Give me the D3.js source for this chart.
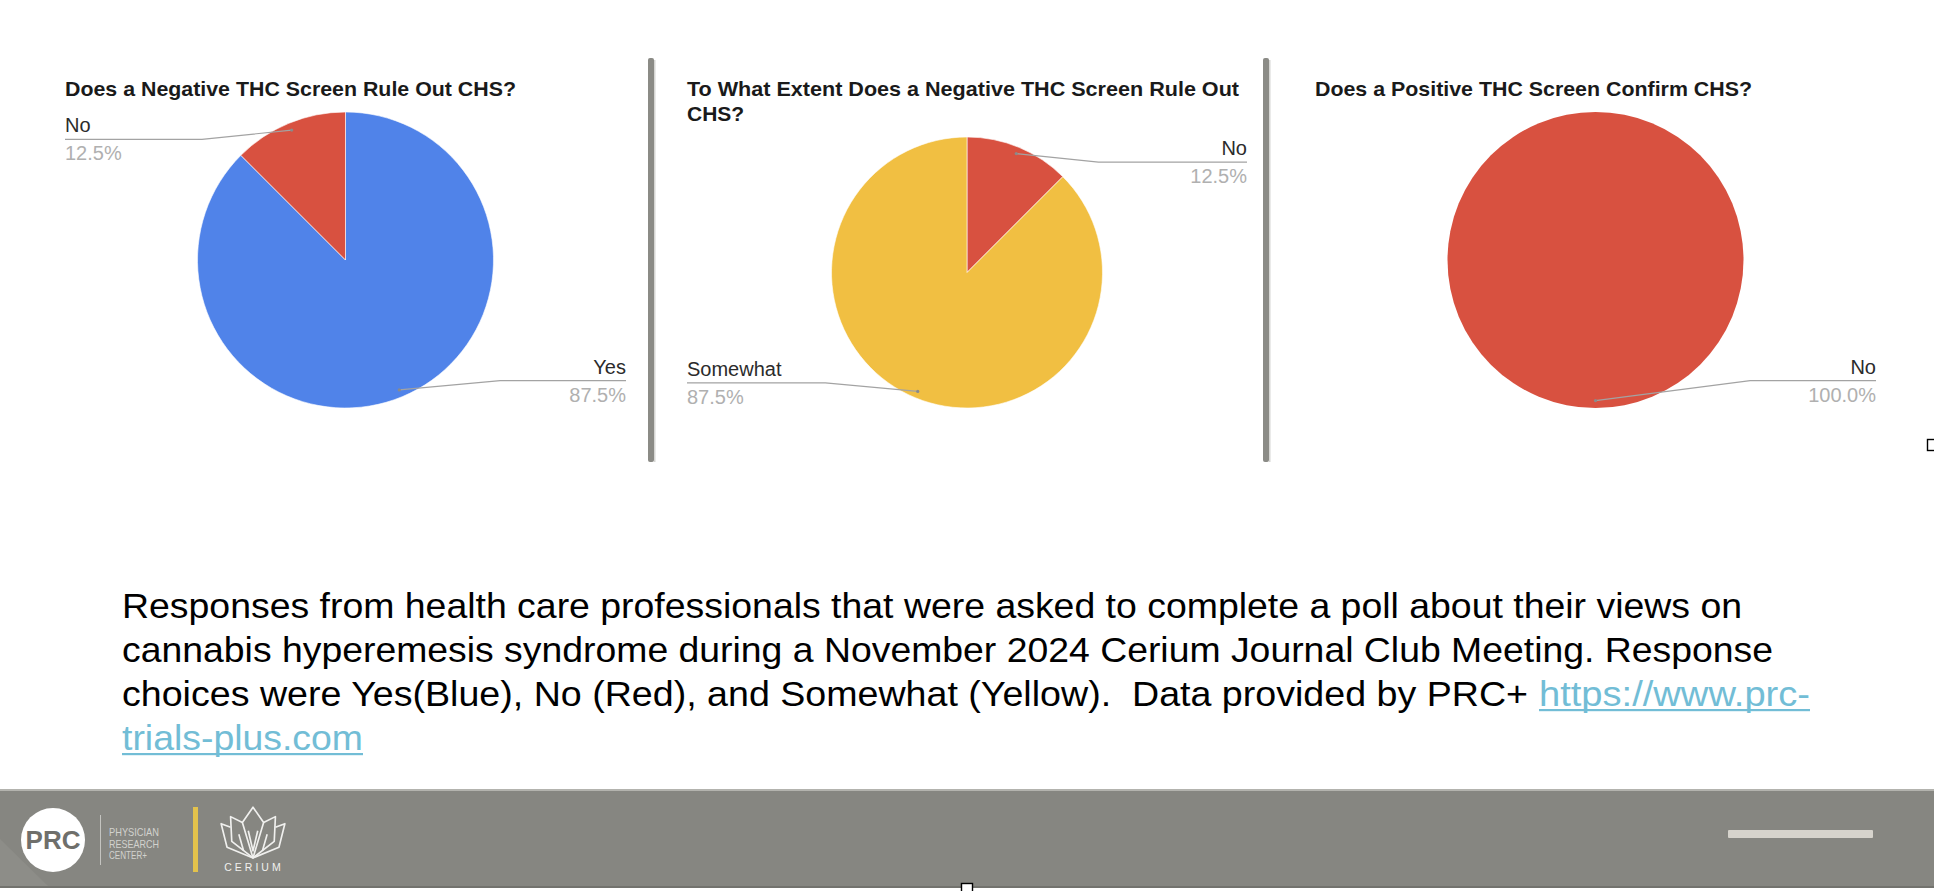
<!DOCTYPE html>
<html>
<head>
<meta charset="utf-8">
<script src="https://cdn.jsdelivr.net/npm/d3@7"></script>
<style>
  html, body { margin: 0; padding: 0; background: #ffffff; }
  svg { display: block; }
  text { font-family: "Liberation Sans", Arial, "Helvetica", sans-serif; white-space: pre; }
</style>
</head>
<body>
<svg id="chart" width="1934" height="891"></svg>
<script>
// ---------------- DATA ----------------
const chartTitles = [
  ["Does a Negative THC Screen Rule Out CHS?"],
  ["To What Extent Does a Negative THC Screen Rule Out", "CHS?"],
  ["Does a Positive THC Screen Confirm CHS?"]
];
const pie1Categories = ["Yes", "No"];
const pie1Values = [87.5, 12.5];
const pie2Categories = ["No", "Somewhat"];
const pie2Values = [12.5, 87.5];
const pie3Categories = ["No"];
const pie3Values = [100];

const categoryColors = { "Yes": "#5083e9", "No": "#d85140", "Somewhat": "#f1bf42" };

const captionLines = [
  "Responses from health care professionals that were asked to complete a poll about their views on",
  "cannabis hyperemesis syndrome during a November 2024 Cerium Journal Club Meeting. Response",
  "choices were Yes(Blue), No (Red), and Somewhat (Yellow).  Data provided by PRC+"
];
const linkParts = ["https://www.prc-", "trials-plus.com"];
const footerBrandLines = ["PHYSICIAN", "RESEARCH", "CENTER+"];

// ---------------- LAYOUT ----------------
const svg = d3.select("#chart");
const W = 1934, H = 891;

const panels = [
  { left: 65, right: 626, cats: pie1Categories, vals: pie1Values, title: chartTitles[0] },
  { left: 687, right: 1247, cats: pie2Categories, vals: pie2Values, title: chartTitles[1] },
  { left: 1315, right: 1876, cats: pie3Categories, vals: pie3Values, title: chartTitles[2] }
];
const titleLengths = [[451], [552, null], [437]];

const titleBaseline = 96, titleLineH = 25, pieBottom = 408;
const pct = d3.format(".1%");

const pieGen = d3.pie().sort(null).value(d => d.value);

panels.forEach((p, pi) => {
  const g = svg.append("g");
  p.title.forEach((line, li) => {
    const t = g.append("text")
      .attr("x", p.left)
      .attr("y", titleBaseline + li * titleLineH)
      .attr("font-size", 21)
      .attr("font-weight", "bold")
      .attr("fill", "#1a1a1a")
      .text(line);
    if (titleLengths[pi][li]) t.attr("textLength", titleLengths[pi][li]).attr("lengthAdjust", "spacingAndGlyphs");
  });
  const lastBase = titleBaseline + (p.title.length - 1) * titleLineH;
  const pieTop = lastBase + 16;
  const r = (pieBottom - pieTop) / 2;
  const cx = (p.left + p.right) / 2;
  const cy = pieTop + r;

  const data = p.cats.map((c, i) => ({ cat: c, value: p.vals[i] }));
  const total = d3.sum(data, d => d.value);
  const arcs = pieGen(data);
  const arc = d3.arc().innerRadius(0).outerRadius(r);
  const anchorArc = d3.arc().innerRadius(r * 0.95).outerRadius(r * 0.95);

  const pg = g.append("g").attr("transform", `translate(${cx},${cy})`);
  pg.selectAll("path.slice").data(arcs).join("path")
    .attr("class", "slice")
    .attr("d", arc)
    .attr("fill", d => categoryColors[d.data.cat])
    .attr("stroke", arcs.length > 1 ? "#ffffff" : "none")
    .attr("stroke-width", 0.6);

  arcs.forEach(d => {
    const mid = (d.startAngle + d.endAngle) / 2;
    const a = anchorArc.centroid(d);
    const right = Math.sin(mid) > -1e-6;
    const top = Math.cos(mid) > 0;
    const lineY = cy + (top ? -0.815 * r : 0.815 * r);
    const elbowX = cx + (right ? 1 : -1) * r * (top ? 0.97 : 1.045);
    const edgeX = right ? p.right : p.left;
    const ax = cx + a[0], ay = cy + a[1];
    g.append("path")
      .attr("d", d3.line()([[ax, ay], [elbowX, lineY], [edgeX, lineY]]))
      .attr("fill", "none")
      .attr("stroke", "#a3a3a3")
      .attr("stroke-width", 1.2);
    g.append("circle").attr("cx", ax).attr("cy", ay).attr("r", 1.6).attr("fill", "#8a8a8a");
    g.append("text")
      .attr("x", edgeX).attr("y", lineY - 7)
      .attr("text-anchor", right ? "end" : "start")
      .attr("font-size", 20).attr("fill", "#2b2b2b")
      .text(d.data.cat);
    g.append("text")
      .attr("x", edgeX).attr("y", lineY + 21)
      .attr("text-anchor", right ? "end" : "start")
      .attr("font-size", 20).attr("fill", "#b0b0b0")
      .text(pct(d.data.value / total));
  });
});

// separators
[651, 1266].forEach(x => {
  svg.append("rect").attr("x", x - 3).attr("y", 58).attr("width", 6).attr("height", 404)
    .attr("rx", 2).attr("fill", "#8b8b86");
  svg.append("rect").attr("x", x + 3).attr("y", 60).attr("width", 1.5).attr("height", 402)
    .attr("fill", "#d6d6d3");
});

// caption
const capX = 122, capBase = 618, capLH = 44;
const capLengths = [1620, 1651, 1406];
captionLines.forEach((line, i) => {
  svg.append("text")
    .attr("x", capX).attr("y", capBase + i * capLH)
    .attr("font-size", 35).attr("fill", "#000000")
    .attr("textLength", capLengths[i]).attr("lengthAdjust", "spacingAndGlyphs")
    .text(line);
});
const linkColor = "#72bdd6";
const linkPos = [{ x: 1539, w: 271, line: 2 }, { x: 122, w: 241, line: 3 }];
linkParts.forEach((s, i) => {
  const lp = linkPos[i];
  const y = capBase + lp.line * capLH;
  svg.append("text")
    .attr("x", lp.x).attr("y", y)
    .attr("font-size", 35).attr("fill", linkColor)
    .attr("textLength", lp.w).attr("lengthAdjust", "spacingAndGlyphs")
    .text(s);
  svg.append("rect").attr("x", lp.x).attr("y", y + 3).attr("width", lp.w).attr("height", 2.2).attr("fill", linkColor);
});

// footer band
const fy = 789, fh = 99;
svg.append("rect").attr("x", 0).attr("y", fy).attr("width", W).attr("height", fh).attr("fill", "#868681");
svg.append("rect").attr("x", 0).attr("y", fy).attr("width", W).attr("height", 2).attr("fill", "#b3b3ae");
svg.append("rect").attr("x", 0).attr("y", fy + fh - 2).attr("width", W).attr("height", 2).attr("fill", "#73736e");
svg.append("path").attr("d", `M0,${fy + 50} L48,${fy + fh - 2} L0,${fy + fh - 2} Z`).attr("fill", "#8d8d88");

// PRC logo
svg.append("circle").attr("cx", 53).attr("cy", 840).attr("r", 32).attr("fill", "#ffffff");
svg.append("text").attr("x", 53).attr("y", 849).attr("text-anchor", "middle")
  .attr("font-size", 26).attr("font-weight", "bold").attr("fill", "#6f6f6b").text("PRC");
svg.append("rect").attr("x", 100).attr("y", 815).attr("width", 1).attr("height", 50).attr("fill", "#c4c4c0");
footerBrandLines.forEach((s, i) => {
  svg.append("text").attr("x", 109).attr("y", 836 + i * 11.5)
    .attr("font-size", 10.5).attr("fill", "#d2d2ce")
    .attr("textLength", i === 2 ? 38 : 50).attr("lengthAdjust", "spacingAndGlyphs")
    .text(s);
});
svg.append("rect").attr("x", 193).attr("y", 807).attr("width", 5).attr("height", 65).attr("fill", "#e3c24c");

// Cerium lotus
const lot = svg.append("g").attr("transform", "translate(253,806) scale(1.18)")
  .attr("fill", "none").attr("stroke", "#f0f0ee").attr("stroke-width", 1.4).attr("stroke-linejoin", "round");
lot.append("path").attr("d", "M0,1 L-9,14 L0,44 L9,14 Z");
lot.append("path").attr("d", "M-4,21 L0,38 L4,21");
lot.append("path").attr("d", "M-9,14 L-19,9 L-18,30 L0,44");
lot.append("path").attr("d", "M9,14 L19,9 L18,30 L0,44");
lot.append("path").attr("d", "M-19,18 L-27,15 L-22,35 L0,44");
lot.append("path").attr("d", "M19,18 L27,15 L22,35 L0,44");
lot.append("path").attr("d", "M-12,24 L-8,38");
lot.append("path").attr("d", "M12,24 L8,38");
svg.append("text").attr("x", 254).attr("y", 871).attr("text-anchor", "middle")
  .attr("font-size", 10.5).attr("fill", "#f0f0ee").attr("letter-spacing", 3).text("CERIUM");

// right footer bar
svg.append("rect").attr("x", 1728).attr("y", 830).attr("width", 145).attr("height", 8).attr("rx", 1).attr("fill", "#d6d3cc");

// selection handles
svg.append("rect").attr("x", 1927.5).attr("y", 439.5).attr("width", 11).attr("height", 11)
  .attr("fill", "#ffffff").attr("stroke", "#000").attr("stroke-width", 1.4);
svg.append("rect").attr("x", 961.5).attr("y", 883.5).attr("width", 11).attr("height", 11)
  .attr("fill", "#ffffff").attr("stroke", "#000").attr("stroke-width", 1.4);
</script>
</body>
</html>
